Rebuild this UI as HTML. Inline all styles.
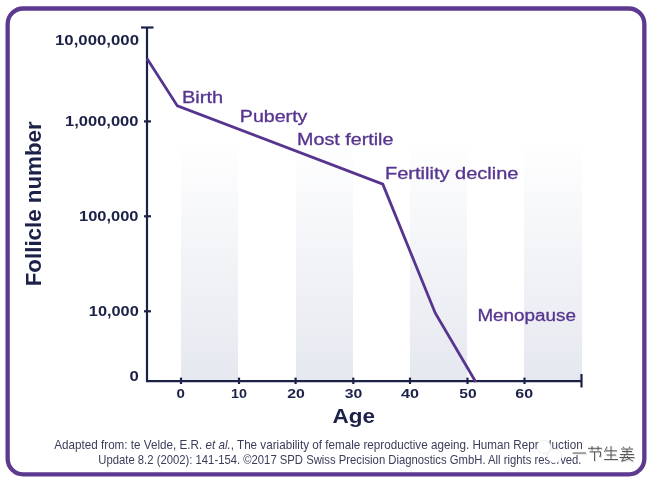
<!DOCTYPE html>
<html><head><meta charset="utf-8">
<style>
html,body{margin:0;padding:0;background:#fff;}
body{width:655px;height:482px;overflow:hidden;position:relative;font-family:"Liberation Sans",sans-serif;}
svg{position:absolute;left:0;top:0;will-change:transform;}
</style></head>
<body>
<svg width="655" height="482" viewBox="0 0 655 482" font-family="Liberation Sans, sans-serif">
<defs>
<linearGradient id="band" x1="0" y1="0" x2="0" y2="1">
<stop offset="0" stop-color="#ffffff"/>
<stop offset="1" stop-color="#e5e8ef"/>
</linearGradient>
</defs>
<!-- border -->
<rect x="7.65" y="8.5" width="636.7" height="465.85" rx="15.5" ry="15.5" fill="none" stroke="#5d3a90" stroke-width="4.3"/>
<!-- bands -->
<rect x="181" y="138" width="57" height="242" fill="url(#band)"/>
<rect x="296" y="138" width="57" height="242" fill="url(#band)"/>
<rect x="410" y="138" width="57" height="242" fill="url(#band)"/>
<rect x="524" y="138" width="58" height="242" fill="url(#band)"/>
<!-- axes -->
<g stroke="#1c2148" stroke-width="2.2" fill="none">
<path d="M147 27.5 V381.2 H582"/>
<path d="M141 27.5 H153.5"/>
<path d="M581.5 374 V387.5"/>
<path d="M144 121.4 H151"/>
<path d="M144 216.3 H151"/>
<path d="M144 311.3 H151"/>
<path d="M181 377.6 V384"/>
<path d="M239 377.6 V384"/>
<path d="M295.6 377.6 V384"/>
<path d="M353.3 377.6 V384"/>
<path d="M410 377.6 V384"/>
<path d="M467.5 377.6 V384"/>
<path d="M524.5 377.6 V384"/>
</g>
<!-- data line -->
<path d="M147 58.4 L177.4 105.9 L382.8 184.2 L435.2 313 L475.8 382" fill="none" stroke="#56348f" stroke-width="2.8" stroke-linejoin="miter"/>
<!-- y labels -->
<g fill="#1c2148" font-weight="bold" font-size="14" lengthAdjust="spacingAndGlyphs">
<text x="55" y="45.2" textLength="84" lengthAdjust="spacingAndGlyphs">10,000,000</text>
<text x="65" y="125.8" textLength="73.5" lengthAdjust="spacingAndGlyphs">1,000,000</text>
<text x="79" y="221.3" textLength="59.5" lengthAdjust="spacingAndGlyphs">100,000</text>
<text x="88.8" y="315.6" textLength="50" lengthAdjust="spacingAndGlyphs">10,000</text>
<text x="129.6" y="380.6" textLength="9.3" lengthAdjust="spacingAndGlyphs">0</text>
</g>
<g fill="#1c2148" font-weight="bold" font-size="13.5">
<text x="176.6" y="397.8" textLength="8.4" lengthAdjust="spacingAndGlyphs">0</text>
<text x="230.9" y="397.8" textLength="16" lengthAdjust="spacingAndGlyphs">10</text>
<text x="287.2" y="397.8" textLength="17.6" lengthAdjust="spacingAndGlyphs">20</text>
<text x="344.8" y="397.8" textLength="17.6" lengthAdjust="spacingAndGlyphs">30</text>
<text x="400.9" y="397.8" textLength="18" lengthAdjust="spacingAndGlyphs">40</text>
<text x="459.3" y="397.8" textLength="17.4" lengthAdjust="spacingAndGlyphs">50</text>
<text x="515.3" y="397.8" textLength="17.8" lengthAdjust="spacingAndGlyphs">60</text>
</g>
<text x="332.5" y="423" fill="#1c2148" font-weight="bold" font-size="21" textLength="42.5" lengthAdjust="spacingAndGlyphs">Age</text>
<text transform="translate(41.2 286.3) rotate(-90)" x="0" y="0" fill="#1c2148" font-weight="bold" font-size="22" textLength="165" lengthAdjust="spacingAndGlyphs">Follicle number</text>
<!-- annotations -->
<g fill="#56358f" font-size="15.6" stroke="#56358f" stroke-width="0.3">
<text x="182" y="103.4" textLength="41.2" lengthAdjust="spacingAndGlyphs">Birth</text>
<text x="239.8" y="122" textLength="67.6" lengthAdjust="spacingAndGlyphs">Puberty</text>
<text x="297" y="144.6" textLength="96.4" lengthAdjust="spacingAndGlyphs">Most fertile</text>
<text x="385" y="179" textLength="133.5" lengthAdjust="spacingAndGlyphs">Fertility decline</text>
<text x="477.4" y="321.4" textLength="98.5" lengthAdjust="spacingAndGlyphs">Menopause</text>
</g>
<!-- footer -->
<g fill="#3a3d5a" font-size="12.6">
<text x="54.3" y="448.6" textLength="528.4" lengthAdjust="spacingAndGlyphs">Adapted from: te Velde, E.R. <tspan font-style="italic">et al.</tspan>, The variability of female reproductive ageing. Human Reproduction</text>
<text x="98.3" y="463.7" textLength="483.2" lengthAdjust="spacingAndGlyphs">Update 8.2 (2002): 141-154. ©2017 SPD Swiss Precision Diagnostics GmbH. All rights reserved.</text>
</g>
<!-- watermark -->
<g fill="#fff" stroke="#e0e0e4" stroke-width="0.6">
<ellipse cx="544" cy="447" rx="7" ry="6.6"/>
<ellipse cx="554.5" cy="455.8" rx="7.2" ry="6.9"/>
</g>
<g fill="none" stroke="#dcdcdc" stroke-width="1.1" transform="translate(0.8 0.9)">
<path d="M572.5 453H586 M588 448.3H602 M592 446V450.5 M598 446V450.5 M589.5 451.8H600.5V456.5L599 456 M594.5 451.8V461 M607 446.5L604.5 452 M606 450.8H617 M611 446V459.5 M606.5 455H616 M604 459.5H618 M623 446.5L624 448 M630 446.5L629 448 M621 449H633 M622 451.5H632 M627 449V454.5 M620 454.5H634 M619.5 457.5H634.5 M625 455L622 461 M627 456Q629 460 633 461 M621 461.2Q626 460.5 630 458"/>
</g>
<g fill="none" stroke="#58585c" stroke-width="1">
<path d="M572.5 453H586 M588 448.3H602 M592 446V450.5 M598 446V450.5 M589.5 451.8H600.5V456.5L599 456 M594.5 451.8V461 M607 446.5L604.5 452 M606 450.8H617 M611 446V459.5 M606.5 455H616 M604 459.5H618 M623 446.5L624 448 M630 446.5L629 448 M621 449H633 M622 451.5H632 M627 449V454.5 M620 454.5H634 M619.5 457.5H634.5 M625 455L622 461 M627 456Q629 460 633 461 M621 461.2Q626 460.5 630 458"/>
</g>
</svg>
</body></html>
